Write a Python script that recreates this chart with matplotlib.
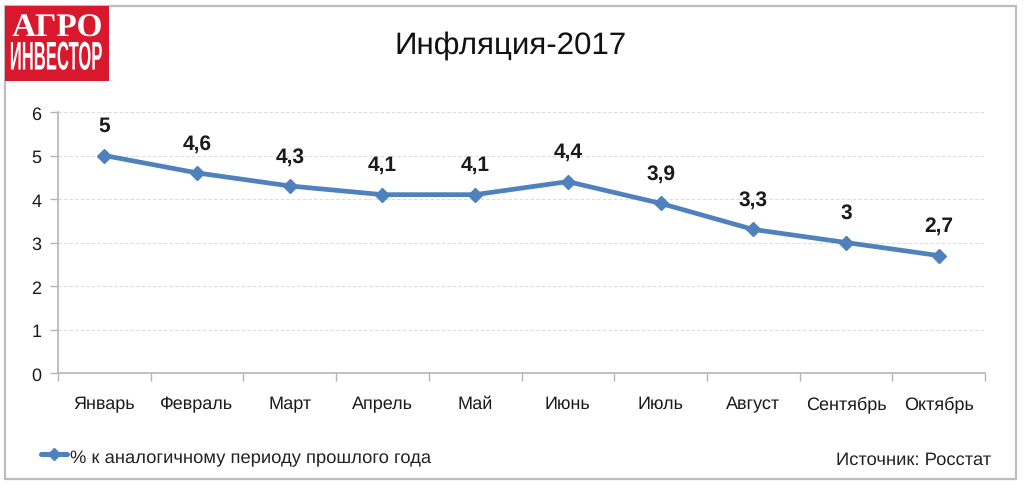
import matplotlib
matplotlib.use('Agg')
import matplotlib.pyplot as plt
import matplotlib.patheffects as pe
from matplotlib.patches import Rectangle
from matplotlib.transforms import Affine2D

plt.rcParams['font.family'] = ['Liberation Sans', 'DejaVu Sans']
plt.rcParams['text.hinting'] = 'no_hinting'

months = ['Январь', 'Февраль', 'Март', 'Апрель', 'Май', 'Июнь', 'Июль', 'Август', 'Сентябрь', 'Октябрь']
inflation = [5, 4.6, 4.3, 4.1, 4.1, 4.4, 3.9, 3.3, 3, 2.7]
value_labels = ['5', '4,6', '4,3', '4,1', '4,1', '4,4', '3,9', '3,3', '3', '2,7']
y_ticks = [0, 1, 2, 3, 4, 5, 6]

W, H = 1024, 489
BLUE = '#4f81bd'
GREY = '#b4b4b4'


# вытягивает буквы логотипа по вертикали, текст остаётся текстом
class TallText(pe.AbstractPathEffect):
    def __init__(self, y_center, scale):
        super().__init__()
        self.y_center = y_center
        self.scale = scale

    def draw_path(self, renderer, gc, tpath, affine, rgbFace=None):
        stretch = Affine2D().translate(0, -self.y_center).scale(1, self.scale).translate(0, self.y_center)
        renderer.draw_path(gc, tpath, affine + stretch, rgbFace)


fig = plt.figure(figsize=(W / 100, H / 100), dpi=100)

# внешняя рамка и логотип
fig.add_artist(Rectangle((5 / W, 1 - 480 / H), 1011 / W, 473 / H, transform=fig.transFigure,
                         fill=False, edgecolor='#bdbdbd', linewidth=1.6))
fig.add_artist(Rectangle((5 / W, 1 - 82 / H), 104 / W, 75 / H, transform=fig.transFigure,
                         facecolor='#d9182d', edgecolor='none'))
fig.text(57 / W, 1 - 29 / H, 'АГРО', color='white', fontsize=24, fontweight='bold',
         family='Liberation Serif', ha='center', va='center')
logo2 = fig.text(56 / W, 1 - 60 / H, 'ИНВЕСТОР', color='white', fontsize=12, fontweight='bold',
                 ha='center', va='center')
logo2.set_path_effects([TallText(H - 60, 2.4)])

# область графика
ax = fig.add_axes([58 / W, 1 - 374 / H, 927 / W, 261 / H])
x = list(range(len(months)))
ax.plot(x, inflation, color=BLUE, linewidth=3.4, marker='D', markersize=7.5, solid_capstyle='round', zorder=3)

for xi, yi, lab in zip(x, inflation, value_labels):
    ax.annotate(lab, (xi, yi), xytext=(0, 30), textcoords='offset pixels', ha='center', va='center',
                fontsize=15, fontweight='bold', color='#1a1a1a')

ax.set_xlim(-0.5, len(months) - 0.5)
ax.set_ylim(0, 6)
ax.set_yticks(y_ticks)
ax.set_xticks([i - 0.5 for i in range(len(months) + 1)])
ax.set_xticklabels([])
ax.set_xticks(x, minor=True)
ax.set_xticklabels(months, minor=True, fontsize=13, color='#1a1a1a')
ax.tick_params(axis='x', which='major', direction='out', length=6, width=1, color=GREY)
ax.tick_params(axis='x', which='minor', length=0, pad=16)
ax.tick_params(axis='y', direction='out', length=6, width=1, color=GREY, labelsize=13, labelcolor='#1a1a1a', pad=6)
ax.grid(axis='y', color='#dcdcdc', linestyle=(0, (3, 2)), linewidth=0.8)
ax.set_axisbelow(True)
for side in ['top', 'right']:
    ax.spines[side].set_visible(False)
for side in ['left', 'bottom']:
    ax.spines[side].set_color(GREY)
    ax.spines[side].set_linewidth(1.2)

fig.text(511 / W, 1 - 46 / H, 'Инфляция-2017', fontsize=22.5, ha='center', va='center', color='#111111')

# легенда и источник
legend_line = plt.Line2D([41 / W, 54 / W, 67 / W], [1 - 455 / H] * 3, transform=fig.transFigure, color=BLUE,
                         linewidth=3.6, marker='D', markersize=6, markevery=[1], solid_capstyle='round')
fig.add_artist(legend_line)
fig.text(70 / W, 1 - 459 / H, '% к аналогичному периоду прошлого года', fontsize=13.2, ha='left', va='center', color='#222222')
fig.text(991 / W, 1 - 460 / H, 'Источник: Росстат', fontsize=13.2, ha='right', va='center', color='#222222')

fig.savefig('out.png', dpi=100)
